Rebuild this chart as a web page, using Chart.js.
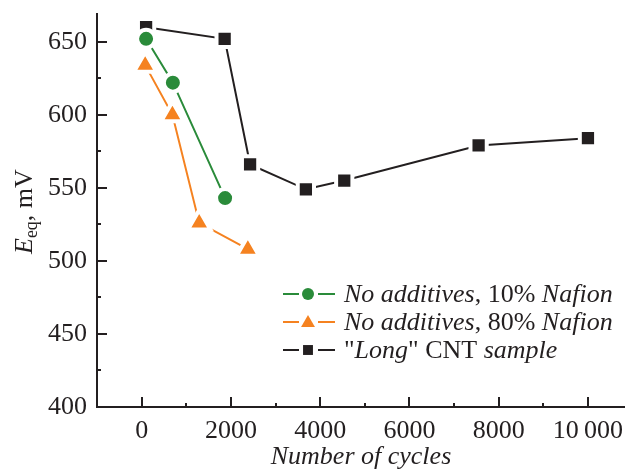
<!DOCTYPE html>
<html>
<head>
<meta charset="utf-8">
<script src="https://cdn.jsdelivr.net/npm/chart.js@4.4.1/dist/chart.umd.min.js"></script>
<style>
  html, body { margin: 0; padding: 0; background: #fff; overflow: hidden; }
  #wrap { width: 625px; height: 470px; position: relative; }
</style>
</head>
<body>
<div id="wrap"><canvas id="myChart" width="625" height="470"></canvas></div>
<script>
// data
var cycles10 = [100, 700, 1870];
var eq10 = [652, 622, 543];

var cycles80 = [80, 690, 1290, 2380];
var eq80 = [634, 600, 526, 508];

var cyclesLong = [100, 1860, 2430, 3680, 4540, 7550, 10000];
var eqLong = [660, 652, 566, 549, 555, 579, 584];

var xTickValues = [0, 2000, 4000, 6000, 8000, 10000];
var xMinorValues = [1000, 3000, 5000, 7000, 9000];
var yTickValues = [400, 450, 500, 550, 600, 650];
var yMinorValues = [425, 475, 525, 575, 625];

var legendParts = [
    [['No additives', true], [', 10% ', false], ['Nafion', true]],
    [['No additives', true], [', 80% ', false], ['Nafion', true]],
    [['"', false], ['Long', true], ['" CNT ', false], ['sample', true]]
];

var axisColor = '#231f20';
var serif = '"Liberation Serif", serif';

function toPoints(xs, ys) {
    var pts = [];
    for (var i = 0; i < xs.length; i++) pts.push({ x: xs[i], y: ys[i] });
    return pts;
}

// inward ticks, y-axis title with subscript, and the mixed-style legend
var decorPlugin = {
    id: 'decor',
    afterDraw: function (chart) {
        var ctx = chart.ctx;
        var xs = chart.scales.x, ys = chart.scales.y;
        var area = chart.chartArea;
        ctx.save();
        ctx.strokeStyle = axisColor;
        ctx.lineWidth = 2;
        ctx.beginPath();
        xTickValues.forEach(function (v) {
            var px = Math.round(xs.getPixelForValue(v));
            ctx.moveTo(px, area.bottom); ctx.lineTo(px, area.bottom - 10);
        });
        xMinorValues.forEach(function (v) {
            var px = Math.round(xs.getPixelForValue(v));
            ctx.moveTo(px, area.bottom); ctx.lineTo(px, area.bottom - 4);
        });
        yTickValues.forEach(function (v) {
            var py = Math.round(ys.getPixelForValue(v));
            ctx.moveTo(area.left, py); ctx.lineTo(area.left + 10, py);
        });
        yMinorValues.forEach(function (v) {
            var py = Math.round(ys.getPixelForValue(v));
            ctx.moveTo(area.left, py); ctx.lineTo(area.left + 4, py);
        });
        ctx.stroke();

        // y title: E_eq, mV
        ctx.translate(32, 254);
        ctx.rotate(-Math.PI / 2);
        ctx.fillStyle = axisColor;
        ctx.textBaseline = 'alphabetic';
        ctx.textAlign = 'left';
        ctx.font = 'italic 26px ' + serif;
        ctx.fillText('E', 0, 0);
        var w = ctx.measureText('E').width;
        ctx.font = '18px ' + serif;
        ctx.fillText('eq', w, 5);
        w += ctx.measureText('eq').width;
        ctx.font = '26px ' + serif;
        ctx.fillText(', mV', w, 0);
        ctx.restore();

        // legend
        ctx.save();
        var rows = [294, 322, 350];
        chart.data.datasets.forEach(function (ds, i) {
            var y = rows[i];
            ctx.strokeStyle = ds.borderColor;
            ctx.lineWidth = 2;
            ctx.beginPath();
            ctx.moveTo(283, y); ctx.lineTo(299, y);
            ctx.moveTo(318, y); ctx.lineTo(335, y);
            ctx.stroke();
            ctx.fillStyle = ds.backgroundColor;
            Chart.helpers.drawPoint(ctx, {
                pointStyle: ds.pointStyle,
                radius: ds.legendRadius,
                rotation: 0,
                borderWidth: 0
            }, 308, y + (ds.pointStyle === 'triangle' ? 1 : 0));
            var x = 344;
            ctx.fillStyle = axisColor;
            ctx.textBaseline = 'middle';
            legendParts[i].forEach(function (p) {
                ctx.font = (p[1] ? 'italic ' : '') + '26px ' + serif;
                ctx.fillText(p[0], x, y + 1);
                x += ctx.measureText(p[0]).width;
            });
        });
        ctx.restore();
    }
};

function noEdgePadding(scale) {
    scale.paddingTop = 0;
    scale.paddingBottom = 0;
    scale.paddingLeft = 0;
    scale.paddingRight = 0;
}

var ctx = document.getElementById('myChart').getContext('2d');
var myChart = new Chart(ctx, {
    type: 'scatter',
    data: {
        datasets: [{
            label: 'No additives, 10% Nafion',
            data: toPoints(cycles10, eq10),
            showLine: true,
            borderColor: '#2a8b3a',
            backgroundColor: '#2a8b3a',
            borderWidth: 2,
            pointStyle: 'circle',
            pointRadius: 9,
            pointBorderColor: '#ffffff',
            pointBorderWidth: 4,
            legendRadius: 6
        }, {
            label: 'No additives, 80% Nafion',
            data: toPoints(cycles80, eq80),
            showLine: true,
            borderColor: '#f58220',
            backgroundColor: '#f58220',
            borderWidth: 2,
            pointStyle: 'triangle',
            pointRadius: 13,
            pointBorderColor: '#ffffff',
            pointBorderWidth: 4,
            legendRadius: 8
        }, {
            label: '"Long" CNT sample',
            data: toPoints(cyclesLong, eqLong),
            showLine: true,
            borderColor: '#231f20',
            backgroundColor: '#231f20',
            borderWidth: 2,
            pointStyle: 'rect',
            pointRadius: 11.5,
            pointBorderColor: '#ffffff',
            pointBorderWidth: 4,
            legendRadius: 7
        }]
    },
    options: {
        responsive: false,
        animation: false,
        layout: { autoPadding: false, padding: { top: 14, right: 0, left: 0, bottom: 0 } },
        plugins: {
            legend: { display: false },
            tooltip: { enabled: false }
        },
        scales: {
            x: {
                type: 'linear',
                min: -1000,
                max: 10830,
                afterBuildTicks: function (scale) {
                    scale.ticks = xTickValues.map(function (v) { return { value: v }; });
                },
                afterFit: function (scale) { scale.height = 63; noEdgePadding(scale); },
                grid: { display: false, drawTicks: false },
                border: { display: true, color: axisColor, width: 2 },
                ticks: {
                    autoSkip: false,
                    maxRotation: 0,
                    padding: 9,
                    color: axisColor,
                    font: { family: serif, size: 26 },
                    callback: function (v) { return v === 10000 ? '10\u2009000' : String(v); }
                },
                title: {
                    display: true,
                    text: 'Number of cycles',
                    color: axisColor,
                    padding: { top: 0, bottom: 0 },
                    font: { family: serif, size: 26, style: 'italic', lineHeight: 1.0 }
                }
            },
            y: {
                type: 'linear',
                min: 400,
                max: 669,
                afterBuildTicks: function (scale) {
                    scale.ticks = yTickValues.map(function (v) { return { value: v }; });
                },
                afterFit: function (scale) { scale.width = 97; noEdgePadding(scale); },
                grid: { display: false, drawTicks: false },
                border: { display: true, color: axisColor, width: 2 },
                ticks: {
                    padding: 10,
                    color: axisColor,
                    font: { family: serif, size: 26 }
                }
            }
        }
    },
    plugins: [decorPlugin]
});
</script>
</body>
</html>
